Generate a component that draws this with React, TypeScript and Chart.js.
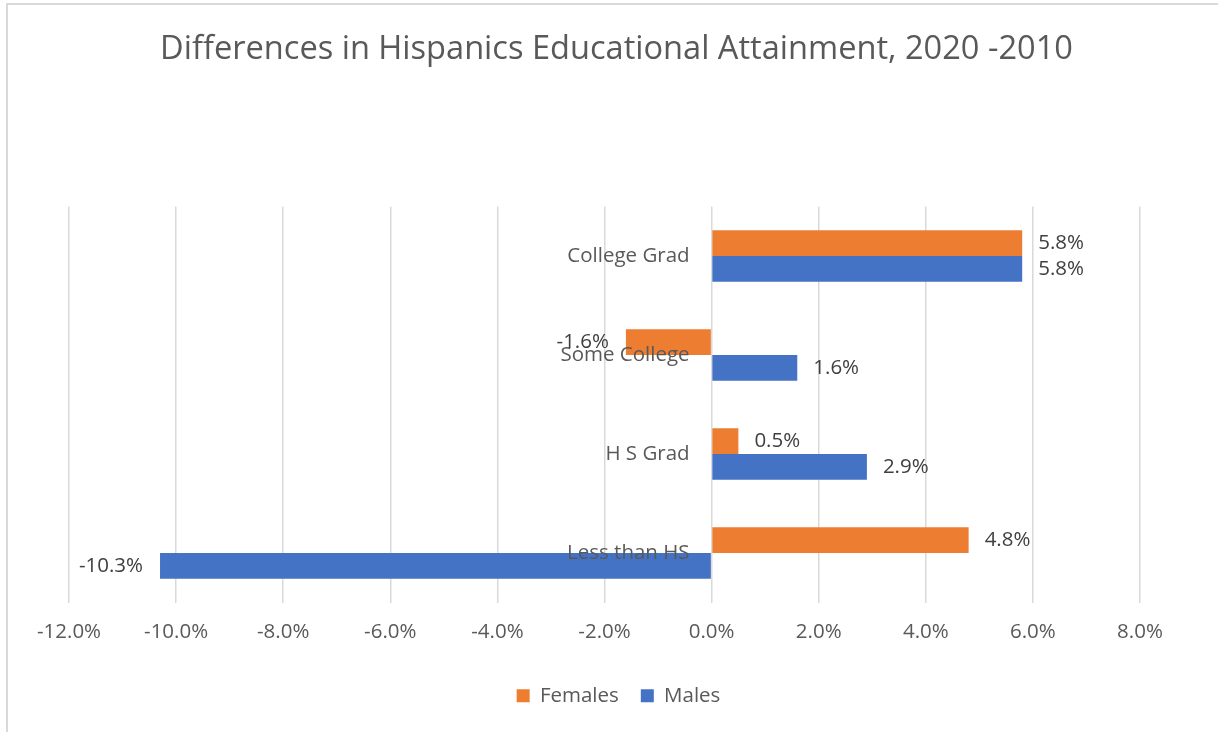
import React, { useEffect, useRef } from "react";
import { Chart, registerables } from "chart.js";

Chart.register(...registerables);

const categories = ["College Grad", "Some College", "H S Grad", "Less than HS"];
const females = [5.8, -1.6, 0.5, 4.8];
const males = [5.8, 1.6, 2.9, -10.3];
const seriesNames = ["Females", "Males"];
const xMin = -12;
const xMax = 8;
const xStep = 2;
const titleText = "Differences in Hispanics Educational Attainment, 2020 -2010";

const FONT = "'Open Sans', 'DejaVu Sans', sans-serif";
const TEXT = "#595959";
const LABEL = "#404040";

const frame = {
  id: "frame",
  afterLayout(chart: any) {
    if (chart.legend) {
      chart.legend.left += 14;
      chart.legend.right += 14;
    }
    if (chart.titleBlock) {
      chart.titleBlock.left += 12;
      chart.titleBlock.right += 12;
    }
  },
  beforeDraw(chart: any) {
    const ctx = chart.ctx;
    ctx.save();
    ctx.fillStyle = "#ffffff";
    ctx.fillRect(0, 0, chart.width, chart.height);
    ctx.strokeStyle = "#d9d9d9";
    ctx.lineWidth = 2;
    ctx.beginPath();
    ctx.moveTo(7, chart.height);
    ctx.lineTo(7, 4);
    ctx.lineTo(chart.width, 4);
    ctx.stroke();
    ctx.restore();
  },
};

const labelsPlugin = {
  id: "labelsPlugin",
  afterDatasetsDraw(chart: any) {
    const ctx = chart.ctx;
    const xs = chart.scales.x;
    const ys = chart.scales.y;
    ctx.save();
    ctx.font = `20.5px ${FONT}`;
    ctx.textBaseline = "middle";
    const zero = xs.getPixelForValue(0);
    ctx.fillStyle = TEXT;
    ctx.textAlign = "right";
    categories.forEach((c, i) => {
      ctx.fillText(c, zero - 22, ys.getPixelForValue(i));
    });
    ctx.fillStyle = LABEL;
    chart.data.datasets.forEach((ds: any, di: number) => {
      const meta = chart.getDatasetMeta(di);
      meta.data.forEach((bar: any, i: number) => {
        const v = ds.data[i];
        const txt = v.toFixed(1) + "%";
        if (v >= 0) {
          ctx.textAlign = "left";
          ctx.fillText(txt, bar.x + 16, bar.y);
        } else {
          ctx.textAlign = "right";
          ctx.fillText(txt, bar.x - 17, bar.y);
        }
      });
    });
    ctx.restore();
  },
};

export default function App() {
  const ref = useRef<HTMLCanvasElement>(null);
  useEffect(() => {
    document.body.style.margin = "0";
    const chart = new Chart(ref.current!, {
      type: "bar",
      data: {
        labels: categories,
        datasets: [
          { label: seriesNames[0], data: females, backgroundColor: "#ED7D31", borderWidth: 0 },
          { label: seriesNames[1], data: males, backgroundColor: "#4472C4", borderWidth: 0 },
        ],
      },
      plugins: [frame, labelsPlugin],
      options: {
        indexAxis: "y",
        responsive: false,
        animation: false,
        categoryPercentage: 0.52,
        barPercentage: 1.0,
        layout: { padding: { left: 69, right: 78, top: 0, bottom: 16 } },
        scales: {
          x: {
            min: xMin,
            max: xMax,
            ticks: {
              stepSize: xStep,
              padding: 17,
              color: TEXT,
              font: { family: FONT, size: 20.5 },
              callback: (v: any) => Number(v).toFixed(1) + "%",
            },
            grid: { color: "#d9d9d9", lineWidth: 1.5, drawTicks: false },
            border: { display: false },
            afterFit: (s: any) => { s.height = 61; },
          },
          y: { display: false },
        },
        plugins: {
          title: {
            display: true,
            text: titleText,
            color: TEXT,
            font: { family: FONT, size: 32.6, weight: "normal" },
            padding: { top: 30, bottom: 137.5 },
          },
          legend: {
            position: "bottom",
            labels: {
              color: TEXT,
              font: { family: FONT, size: 20.5 },
              boxWidth: 13,
              boxHeight: 13,
              padding: 22,
            },
          },
          tooltip: { enabled: false },
        },
      },
    });
    return () => chart.destroy();
  }, []);
  return (
    <div style={{ position: "absolute", left: 0, top: 0, width: 1218, height: 732 }}>
      <canvas ref={ref} width={1218} height={732} />
    </div>
  );
}
